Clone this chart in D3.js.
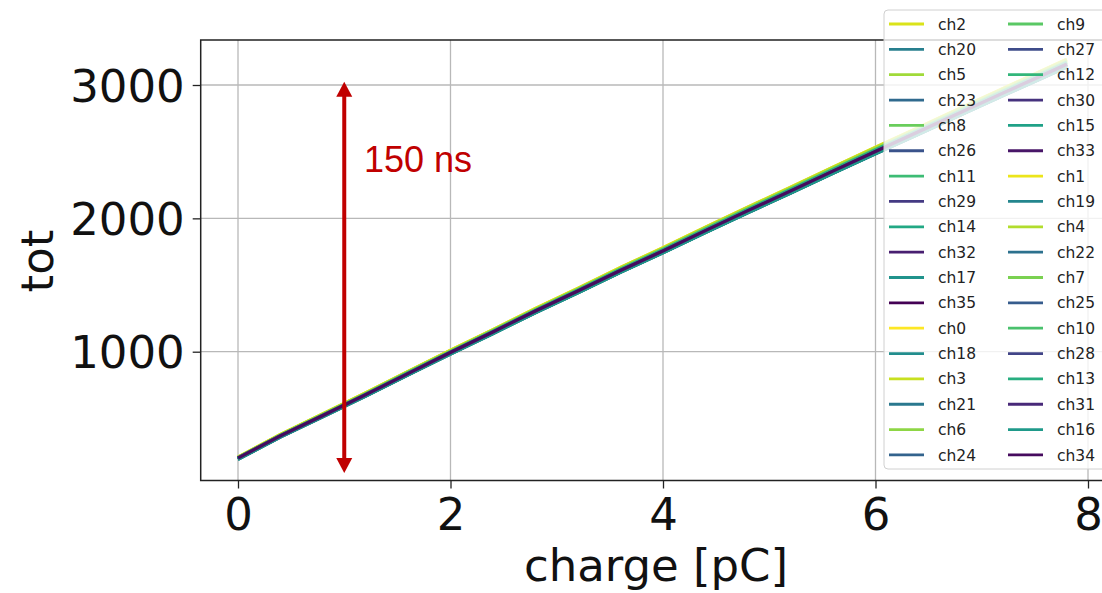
<!DOCTYPE html>
<html>
<head>
<meta charset="utf-8">
<script src="https://cdn.jsdelivr.net/npm/d3@7/dist/d3.min.js"></script>
<style>
  html, body { margin: 0; padding: 0; background: #fff; }
  svg { display: block; }
</style>
</head>
<body>
<svg id="chart" width="1102" height="593"></svg>
<script>
// Injected charge steps [pC]
const charge = [0, 0.4, 0.8, 1.2, 1.6, 2.0, 2.4, 2.8, 3.2, 3.6, 4.0, 4.4, 4.8, 5.2, 5.6, 6.0, 6.4, 6.8, 7.2, 7.6, 7.8];

// Time-over-threshold per channel
const ch0  = [209,379,534,690,851,1010,1165,1324,1475,1631,1779,1933,2084,2232,2383,2532,2678,2826,2973,3118,3192];
const ch1  = [208,377,532,688,849,1009,1163,1322,1473,1628,1776,1930,2081,2229,2380,2529,2675,2823,2970,3115,3189];
const ch2  = [210,380,535,691,852,1011,1166,1325,1476,1632,1780,1934,2085,2233,2384,2533,2680,2828,2975,3120,3194];
const ch3  = [207,376,531,686,847,1007,1161,1320,1471,1626,1774,1928,2079,2227,2377,2526,2672,2820,2967,3112,3186];
const ch4  = [208,378,533,689,850,1008,1164,1321,1472,1629,1777,1931,2082,2230,2381,2530,2676,2824,2971,3116,3190];
const ch5  = [206,375,530,685,846,1006,1160,1319,1470,1625,1773,1927,2078,2226,2376,2525,2671,2819,2966,3111,3185];
const ch6  = [206,374,528,684,845,1003,1158,1316,1467,1622,1770,1923,2074,2221,2372,2520,2666,2813,2960,3104,3177];
const ch7  = [205,374,527,683,844,1002,1157,1315,1466,1621,1769,1922,2073,2220,2371,2519,2665,2812,2959,3103,3176];
const ch8  = [204,373,527,682,843,1001,1156,1314,1465,1620,1767,1920,2071,2218,2369,2517,2663,2810,2957,3101,3174];
const ch9  = [205,373,526,682,842,1001,1155,1313,1464,1619,1767,1920,2070,2218,2368,2516,2662,2809,2956,3100,3173];
const ch10 = [203,372,526,681,842,1000,1155,1313,1463,1618,1766,1919,2069,2217,2367,2515,2661,2808,2954,3098,3171];
const ch11 = [204,372,525,681,841,999,1154,1312,1462,1617,1765,1918,2068,2216,2366,2514,2660,2806,2953,3097,3170];
const ch12 = [202,371,525,680,841,999,1153,1311,1462,1617,1764,1917,2067,2215,2365,2513,2659,2805,2952,3096,3169];
const ch13 = [202,370,524,679,840,998,1152,1310,1461,1616,1763,1916,2066,2214,2364,2512,2657,2804,2950,3094,3167];
const ch14 = [196,364,516,670,829,986,1139,1296,1445,1599,1745,1897,2046,2192,2341,2488,2632,2778,2923,3066,3138];
const ch15 = [195,363,515,669,828,985,1138,1295,1444,1598,1744,1896,2045,2191,2340,2487,2631,2777,2922,3065,3137];
const ch16 = [197,365,517,671,830,987,1140,1297,1446,1600,1746,1898,2047,2193,2342,2489,2633,2779,2924,3067,3139];
const ch17 = [194,362,514,668,827,984,1137,1294,1443,1597,1743,1895,2044,2190,2339,2486,2630,2776,2921,3064,3136];
const ch18 = [193,361,513,667,826,983,1136,1293,1442,1596,1742,1894,2043,2189,2338,2485,2629,2775,2920,3063,3135];
const ch19 = [196,364,517,671,830,987,1140,1296,1446,1600,1745,1897,2046,2193,2341,2488,2632,2778,2923,3066,3138];
const ch20 = [192,360,512,666,825,982,1135,1292,1441,1595,1741,1893,2042,2188,2337,2484,2628,2774,2919,3062,3134];
const ch21 = [194,362,515,669,828,985,1138,1295,1444,1598,1744,1896,2045,2191,2340,2487,2631,2777,2922,3065,3137];
const ch22 = [200,367,519,674,833,991,1144,1301,1451,1605,1751,1903,2053,2199,2348,2496,2641,2787,2932,3076,3149];
const ch23 = [199,366,518,673,832,990,1143,1300,1450,1604,1750,1902,2052,2198,2347,2495,2640,2786,2931,3075,3148];
const ch24 = [201,368,520,675,834,992,1145,1302,1452,1606,1752,1904,2054,2200,2349,2497,2642,2788,2933,3077,3150];
const ch25 = [200,367,520,674,834,991,1145,1301,1452,1605,1752,1903,2054,2199,2349,2496,2642,2787,2933,3076,3150];
const ch26 = [202,369,521,676,835,993,1146,1303,1453,1607,1753,1905,2055,2201,2350,2498,2643,2789,2934,3078,3151];
const ch27 = [201,369,521,676,835,993,1147,1304,1454,1608,1754,1906,2056,2202,2351,2499,2644,2790,2935,3079,3152];
const ch28 = [203,370,523,677,837,995,1149,1306,1456,1610,1757,1909,2059,2206,2355,2503,2648,2795,2940,3084,3157];
const ch29 = [203,371,523,678,837,995,1149,1306,1456,1611,1757,1910,2059,2206,2356,2503,2649,2795,2941,3085,3158];
const ch30 = [204,371,524,678,838,996,1150,1307,1457,1611,1758,1910,2060,2207,2356,2504,2649,2796,2941,3085,3158];
const ch31 = [202,370,522,677,836,994,1148,1305,1455,1609,1756,1908,2058,2205,2354,2502,2647,2794,2939,3083,3156];
const ch32 = [204,372,524,679,838,996,1150,1308,1458,1612,1759,1911,2061,2208,2357,2505,2650,2797,2942,3086,3159];
const ch33 = [203,370,523,678,837,995,1149,1307,1457,1610,1757,1909,2060,2207,2355,2504,2648,2796,2940,3084,3157];
const ch34 = [202,369,522,676,836,994,1148,1305,1455,1609,1755,1908,2058,2204,2354,2501,2647,2793,2939,3082,3156];
const ch35 = [204,371,524,679,838,997,1151,1308,1458,1612,1759,1911,2061,2208,2357,2505,2651,2797,2943,3087,3160];

// Plot / legend order of the channels
const plotOrder = ["ch2","ch20","ch5","ch23","ch8","ch26","ch11","ch29","ch14","ch32","ch17","ch35",
                   "ch0","ch18","ch3","ch21","ch6","ch24","ch9","ch27","ch12","ch30","ch15","ch33",
                   "ch1","ch19","ch4","ch22","ch7","ch25","ch10","ch28","ch13","ch31","ch16","ch34"];

const xTicks = [0, 2, 4, 6, 8];
const yTicks = [1000, 2000, 3000];

const xLabel = "charge [pC]";
const yLabel = "tot";
const noteText = "150 ns";
// Annotation arrow, in data units
const arrowCharge = [1];
const arrowTot = [90, 3025];

const series = {ch0,ch1,ch2,ch3,ch4,ch5,ch6,ch7,ch8,ch9,ch10,ch11,ch12,ch13,ch14,ch15,ch16,ch17,
                ch18,ch19,ch20,ch21,ch22,ch23,ch24,ch25,ch26,ch27,ch28,ch29,ch30,ch31,ch32,ch33,ch34,ch35};
const nCh = 36;
const chColor = name => d3.interpolateViridis(1 - (+name.slice(2)) / (nCh - 1));

const svg = d3.select("#chart");
const font = "'DejaVu Sans', sans-serif";

// Axes box
const box = { left: 200.7, top: 40, right: 1116, bottom: 480.5 };
const x = d3.scaleLinear().domain([0, 8]).range([238, 1088]);
const y = d3.scaleLinear().domain([1000, 3000]).range([351.7, 85]);

// Grid
const grid = svg.append("g");
grid.selectAll("line.gx").data(xTicks).join("line")
  .attr("x1", d => x(d)).attr("x2", d => x(d))
  .attr("y1", box.top).attr("y2", box.bottom)
  .attr("stroke", "#b8b8b8").attr("stroke-width", 1.3);
grid.selectAll("line.gy").data(yTicks).join("line")
  .attr("x1", box.left).attr("x2", box.right)
  .attr("y1", d => y(d)).attr("y2", d => y(d))
  .attr("stroke", "#b8b8b8").attr("stroke-width", 1.3);

// Curves
const line = d3.line()
  .x((d, i) => x(charge[i]))
  .y(d => y(d));
svg.append("g").selectAll("path").data(plotOrder).join("path")
  .attr("d", n => line(series[n]))
  .attr("fill", "none")
  .attr("stroke", n => chColor(n))
  .attr("stroke-width", 3.2)
  .attr("stroke-linejoin", "round")
  .attr("stroke-linecap", "butt");

// Frame
svg.append("rect")
  .attr("x", box.left).attr("y", box.top)
  .attr("width", box.right - box.left).attr("height", box.bottom - box.top)
  .attr("fill", "none").attr("stroke", "#222").attr("stroke-width", 1.5);

// Axes
const xAxis = svg.append("g")
  .attr("transform", `translate(0,${box.bottom})`)
  .call(d3.axisBottom(x).tickValues(xTicks).tickFormat(d3.format("d")).tickSizeOuter(0).tickSizeInner(8).tickPadding(10));
const yAxis = svg.append("g")
  .attr("transform", `translate(${box.left},0)`)
  .call(d3.axisLeft(y).tickValues(yTicks).tickFormat(d3.format("d")).tickSizeOuter(0).tickSizeInner(8).tickPadding(8));
[xAxis, yAxis].forEach(g => {
  g.select(".domain").remove();
  g.selectAll(".tick line").attr("stroke", "#222").attr("stroke-width", 1.3);
  g.selectAll(".tick text").attr("font-family", font).attr("font-size", 45).attr("fill", "#111");
});
xAxis.selectAll(".tick text").attr("dy", "0.71em");
yAxis.selectAll(".tick text").attr("dy", "0.36em");

// Axis titles
svg.append("text")
  .attr("x", 656).attr("y", 581)
  .attr("text-anchor", "middle")
  .attr("font-family", font).attr("font-size", 45).attr("fill", "#111")
  .text(xLabel);
svg.append("text")
  .attr("transform", "translate(53,261) rotate(-90)")
  .attr("text-anchor", "middle")
  .attr("font-family", font).attr("font-size", 45).attr("fill", "#111")
  .text(yLabel);

// Annotation arrow
const red = "#c00000";
const ax = x(arrowCharge[0]);
const yTop = y(arrowTot[1]), yBot = y(arrowTot[0]);
const headL = 15, headW = 8;
svg.append("line")
  .attr("x1", ax).attr("x2", ax)
  .attr("y1", yTop + headL - 1).attr("y2", yBot - headL + 1)
  .attr("stroke", red).attr("stroke-width", 4);
svg.append("path")
  .attr("d", `M${ax},${yTop} L${ax - headW},${yTop + headL} L${ax + headW},${yTop + headL} Z`)
  .attr("fill", red);
svg.append("path")
  .attr("d", `M${ax},${yBot} L${ax - headW},${yBot - headL} L${ax + headW},${yBot - headL} Z`)
  .attr("fill", red);
svg.append("text")
  .attr("x", 364).attr("y", 172)
  .attr("font-family", "'Liberation Sans', Arial, sans-serif")
  .attr("font-size", 36).attr("fill", red)
  .text(noteText);

// Legend (two columns, filled column by column)
const rows = 18;
const lg = svg.append("g");
lg.append("rect")
  .attr("x", 884).attr("y", 10).attr("width", 240).attr("height", 459)
  .attr("rx", 4)
  .attr("fill", "rgba(255,255,255,0.8)")
  .attr("stroke", "#d0d0d0").attr("stroke-width", 1);
const colX = [889, 1008];
const rowY = i => 24 + i * 25.35;
const items = lg.selectAll("g.item").data(plotOrder).join("g")
  .attr("transform", (n, i) => `translate(${colX[Math.floor(i / rows)]},${rowY(i % rows)})`);
items.append("line")
  .attr("x1", 0).attr("x2", 35).attr("y1", 0).attr("y2", 0)
  .attr("stroke", n => chColor(n)).attr("stroke-width", 2.8);
items.append("text")
  .attr("x", 49).attr("y", 0).attr("dy", "0.36em")
  .attr("font-family", font).attr("font-size", 15.5).attr("fill", "#222")
  .text(n => n);
</script>
</body>
</html>
